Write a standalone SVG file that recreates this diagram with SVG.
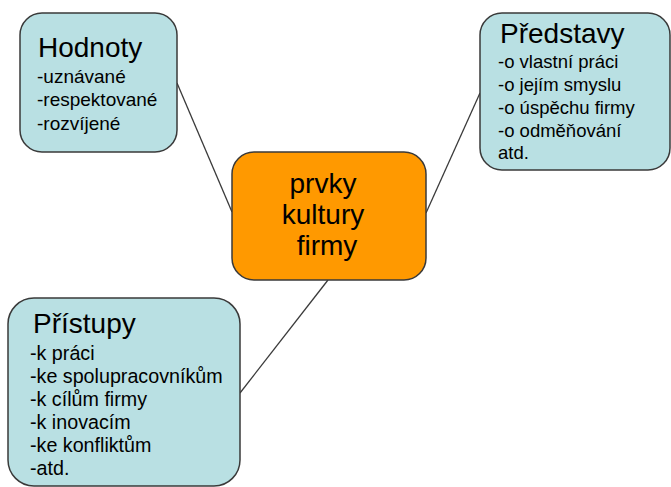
<svg xmlns="http://www.w3.org/2000/svg" width="671" height="487" viewBox="0 0 671 487">
<style>
.box{fill:#B9E0E3;stroke:#3a3a3a;stroke-width:1.5}
.core{fill:#FF9900;stroke:#3a3a3a;stroke-width:1.5}
.t{font-family:"Liberation Sans",Arial,sans-serif;fill:#000}
.h{font-size:28px}
.b{font-size:19px}
.p{font-size:19.7px}
.c{font-size:28px;text-anchor:middle}
.ln{stroke:#3a3a3a;stroke-width:1.3;fill:none}
</style>
<rect width="671" height="487" fill="#fff"/>
<g id="connectors">
<line class="ln" x1="177" y1="83" x2="232" y2="212"/>
<line class="ln" x1="480" y1="93" x2="426" y2="213"/>
<line class="ln" x1="328" y1="280" x2="240" y2="393"/>
</g>
<g id="hodnoty">
<rect class="box" x="20" y="13" width="157" height="139" rx="22"/>
<text class="t h" x="38" y="57">Hodnoty</text>
<text class="t b" x="37" y="83">-uznávané</text>
<text class="t b" x="37" y="106">-respektované</text>
<text class="t b" x="37" y="130">-rozvíjené</text>
</g>
<g id="predstavy">
<rect class="box" x="480" y="13" width="190" height="157" rx="22"/>
<text class="t h" x="500" y="43">Představy</text>
<text class="t b" x="498" y="68" style="font-size:18.5px">-o vlastní práci</text>
<text class="t b" x="498" y="91" style="font-size:18.5px">-o jejím smyslu</text>
<text class="t b" x="498" y="114" style="font-size:18.5px">-o úspěchu firmy</text>
<text class="t b" x="498" y="137" style="font-size:18.5px">-o odměňování</text>
<text class="t b" x="498" y="159" style="font-size:18.5px">atd.</text>
</g>
<g id="prvky">
<rect class="core" x="232" y="152" width="194" height="128" rx="22"/>
<text class="t c" x="323" y="193">prvky</text>
<text class="t c" x="323" y="224">kultury</text>
<text class="t c" x="327" y="255">firmy</text>
</g>
<g id="pristupy">
<rect class="box" x="8" y="298" width="232" height="188" rx="26"/>
<text class="t h" x="33" y="333">Přístupy</text>
<text class="t p" x="30" y="360">-k práci</text>
<text class="t p" x="30" y="383">-ke spolupracovníkům</text>
<text class="t p" x="30" y="406">-k cílům firmy</text>
<text class="t p" x="30" y="429">-k inovacím</text>
<text class="t p" x="30" y="452">-ke konfliktům</text>
<text class="t p" x="30" y="475">-atd.</text>
</g>
</svg>
